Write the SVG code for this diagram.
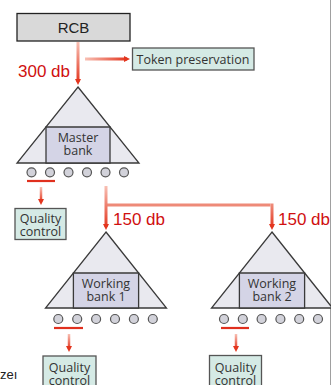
<svg xmlns="http://www.w3.org/2000/svg" width="331" height="385" viewBox="0 0 331 385">
<defs>
<style>
.tri{fill:#e9e9ef;stroke:#3a3a3a;stroke-width:1.3}
.bank{fill:#d4d4e6;stroke:#3a3a3a;stroke-width:1.3}
.dot{fill:#d2d2da;stroke:#555;stroke-width:1.2}
.qc{fill:#d5eae5;stroke:#555;stroke-width:1.3}
.lbl{font-family:"Open Sans","Liberation Sans",sans-serif;font-size:12.5px;fill:#333;text-anchor:middle}
.red{font-family:"Liberation Sans",Arial,sans-serif;font-size:17px;fill:#d01010}
.under{stroke:#e0301e;stroke-width:2.2}
</style>
<linearGradient id="g1" gradientUnits="userSpaceOnUse" x1="0" y1="42" x2="0" y2="82">
<stop offset="0" stop-color="#f8c0b4"/><stop offset="1" stop-color="#e3361f"/>
</linearGradient>
<linearGradient id="g2" gradientUnits="userSpaceOnUse" x1="85" y1="0" x2="127" y2="0">
<stop offset="0" stop-color="#f8c0b4"/><stop offset="1" stop-color="#e3361f"/>
</linearGradient>
<linearGradient id="g3" gradientUnits="userSpaceOnUse" x1="0" y1="187" x2="0" y2="202">
<stop offset="0" stop-color="#f8c0b4"/><stop offset="1" stop-color="#e3361f"/>
</linearGradient>
<linearGradient id="g4" gradientUnits="userSpaceOnUse" x1="0" y1="186" x2="0" y2="227">
<stop offset="0" stop-color="#f8c0b4"/><stop offset="1" stop-color="#e3361f"/>
</linearGradient>
<linearGradient id="g5" gradientUnits="userSpaceOnUse" x1="0" y1="334" x2="0" y2="349">
<stop offset="0" stop-color="#f8c0b4"/><stop offset="1" stop-color="#e3361f"/>
</linearGradient>
<linearGradient id="g6" gradientUnits="userSpaceOnUse" x1="0" y1="205" x2="0" y2="227">
<stop offset="0" stop-color="#ee8a78"/><stop offset="1" stop-color="#e3361f"/>
</linearGradient>
<marker id="ah" markerWidth="6" markerHeight="6" refX="3" refY="3" orient="auto" markerUnits="userSpaceOnUse" viewBox="0 0 6 6">
<path d="M0,0 L6,3 L0,6 z" fill="#e3361f"/>
</marker>
</defs>
<rect width="331" height="385" fill="#ffffff"/>
<line x1="330.5" y1="0" x2="330.5" y2="385" stroke="#a0a0a0" stroke-width="1"/>

<g id="connectors">
<line x1="78" y1="42" x2="78" y2="82" stroke="url(#g1)" stroke-width="3" marker-end="url(#ah)"/>
<line x1="85" y1="59" x2="127" y2="59" stroke="url(#g2)" stroke-width="3" marker-end="url(#ah)"/>
<line x1="41" y1="187" x2="41" y2="202" stroke="url(#g3)" stroke-width="2.5" marker-end="url(#ah)"/>
<path d="M106,205 H270.5" fill="none" stroke="#ee8a78" stroke-width="3"/>
<line x1="272" y1="203.5" x2="272" y2="227" stroke="url(#g6)" stroke-width="3" marker-end="url(#ah)"/>
<line x1="106" y1="186" x2="106" y2="227" stroke="url(#g4)" stroke-width="3" marker-end="url(#ah)"/>
<line x1="69" y1="334" x2="69" y2="349" stroke="url(#g5)" stroke-width="2.5" marker-end="url(#ah)"/>
<line x1="236" y1="334" x2="236" y2="349" stroke="url(#g5)" stroke-width="2.5" marker-end="url(#ah)"/>
</g>

<g id="rcb">
<rect x="17" y="13.5" width="113" height="27.5" fill="#d9d9d9" stroke="#222" stroke-width="1.3"/>
<text x="73.5" y="33" font-family="Liberation Sans,Arial,sans-serif" font-size="15" fill="#222" text-anchor="middle">RCB</text>
</g>

<g id="token">
<rect x="132.5" y="48" width="121.5" height="22" class="qc"/>
<text x="193" y="63.5" class="lbl">Token preservation</text>
</g>

<text x="18" y="77" class="red">300 db</text>

<g id="master">
<polygon points="78,87 139,163 17,163" class="tri"/>
<polygon points="46,127 110,127 110,163 46,163" class="bank"/>
<text x="78" y="141.5" class="lbl">Master</text>
<text x="78" y="155" class="lbl">bank</text>
<circle cx="31.5" cy="172.3" r="4.5" class="dot"/>
<circle cx="50" cy="172.3" r="4.5" class="dot"/>
<circle cx="68.5" cy="172.3" r="4.5" class="dot"/>
<circle cx="87" cy="172.3" r="4.5" class="dot"/>
<circle cx="105.5" cy="172.3" r="4.5" class="dot"/>
<circle cx="124" cy="172.3" r="4.5" class="dot"/>
<line x1="27" y1="181" x2="55" y2="181" class="under"/>
</g>

<g id="qc0">
<rect x="15" y="208.5" width="51" height="31" class="qc"/>
<text x="40.5" y="222.5" class="lbl">Quality</text>
<text x="40.5" y="236" class="lbl">control</text>
</g>

<text x="113" y="225" class="red">150 db</text>
<text x="278" y="225" class="red">150 db</text>

<g id="wb1">
<polygon points="106,232 166.5,308 45.5,308" class="tri"/>
<polygon points="73.4,273 138.6,273 138.6,308 73.4,308" class="bank"/>
<text x="106" y="288" class="lbl">Working</text>
<text x="106" y="301" class="lbl">bank 1</text>
<circle cx="58.3" cy="319" r="4.5" class="dot"/>
<circle cx="77.2" cy="319" r="4.5" class="dot"/>
<circle cx="96.1" cy="319" r="4.5" class="dot"/>
<circle cx="115" cy="319" r="4.5" class="dot"/>
<circle cx="133.9" cy="319" r="4.5" class="dot"/>
<circle cx="152.8" cy="319" r="4.5" class="dot"/>
<line x1="54" y1="328" x2="83" y2="328" class="under"/>
</g>

<g id="wb2">
<polygon points="272,232 332.5,308 211.5,308" class="tri"/>
<polygon points="239.4,273 304.6,273 304.6,308 239.4,308" class="bank"/>
<text x="272" y="288" class="lbl">Working</text>
<text x="272" y="301" class="lbl">bank 2</text>
<circle cx="224" cy="319" r="4.5" class="dot"/>
<circle cx="242.8" cy="319" r="4.5" class="dot"/>
<circle cx="261.6" cy="319" r="4.5" class="dot"/>
<circle cx="280.4" cy="319" r="4.5" class="dot"/>
<circle cx="299.2" cy="319" r="4.5" class="dot"/>
<circle cx="318" cy="319" r="4.5" class="dot"/>
<line x1="221" y1="328" x2="249" y2="328" class="under"/>
</g>

<g id="qc1">
<rect x="43" y="356" width="53" height="35" class="qc"/>
<text x="69.5" y="372" class="lbl">Quality</text>
<text x="69.5" y="385" class="lbl">control</text>
</g>

<g id="qc2">
<rect x="209.5" y="355.5" width="52" height="35" class="qc"/>
<text x="235.5" y="371.5" class="lbl">Quality</text>
<text x="235.5" y="384.5" class="lbl">control</text>
</g>

<text x="0" y="379" font-family="Liberation Sans,Arial,sans-serif" font-size="13" fill="#222">zeı</text>
</svg>
